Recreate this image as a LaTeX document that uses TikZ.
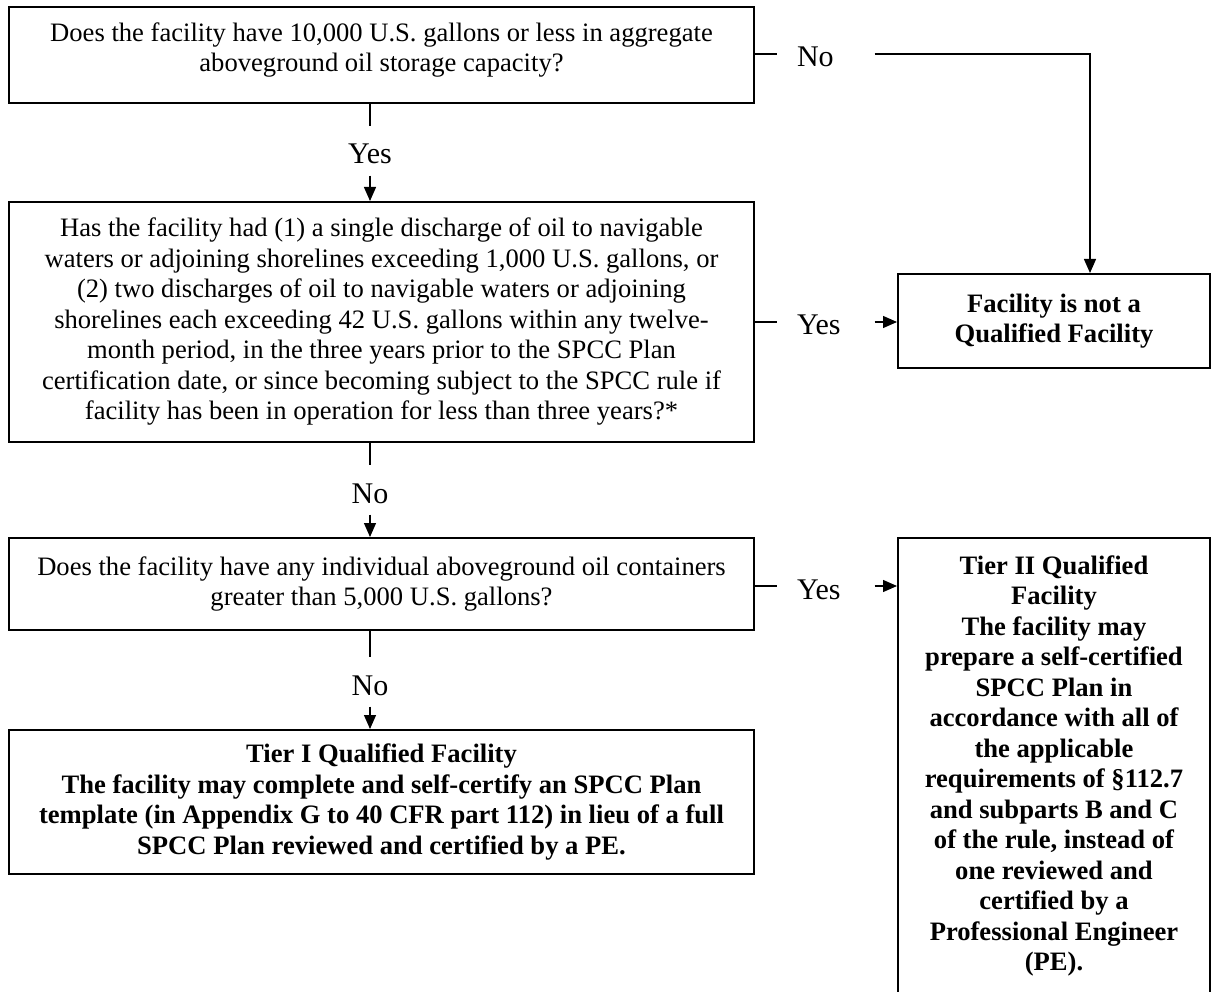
\documentclass[tikz,border=0pt]{standalone}
\usepackage{fontspec}
\setmainfont{Liberation Serif}
\usetikzlibrary{arrows.meta}
\newcommand{\txt}{\fontsize{26.6}{30.5}\selectfont}

\begin{document}
\begin{tikzpicture}[x=1pt,y=-1pt,line width=1.3pt,
    every node/.style={font=\txt},
    box/.style={draw,line width=2pt,align=center,inner sep=0pt},
    bbox/.style={box,font=\txt\bfseries},
    lbl/.style={inner sep=0pt,text height=26pt,text depth=0pt,font=\fontsize{30}{36}\selectfont},
    hlbl/.style={lbl,text width=58pt,inner xsep=19pt,align=left},
    vlbl/.style={lbl,minimum height=48pt},
    arr/.style={-{Triangle[length=14pt,width=12pt]}}]
    \useasboundingbox (0,0) rectangle (1211,992);
    % questions
    \node [box,minimum width=745pt,minimum height=96pt] (q1) at (381.5,55)
        {Does the facility have 10,000 U.S. gallons or less in aggregate\\
         aboveground oil storage capacity?\rule[-16pt]{0pt}{16pt}};
    \node [box,minimum width=745pt,minimum height=240pt] (q2) at (381.5,322)
        {Has the facility had (1) a single discharge of oil to navigable\\
         waters or adjoining shorelines exceeding 1,000 U.S. gallons, or\\
         (2) two discharges of oil to navigable waters or adjoining\\
         shorelines each exceeding 42 U.S. gallons within any twelve-\\
         month period, in the three years prior to the SPCC Plan\\
         certification date, or since becoming subject to the SPCC rule if\\
         facility has been in operation for less than three years?*};
    \node [box,minimum width=745pt,minimum height=92pt] (q3) at (381.5,584)
        {Does the facility have any individual aboveground oil containers\\
         greater than 5,000 U.S. gallons?};
    % outcomes
    \node [bbox,minimum width=312pt,minimum height=94pt] (notq) at (1054,321)
        {Facility is not a\\ Qualified Facility};
    \node [bbox,minimum width=745pt,minimum height=144pt] (tier1) at (381.5,802)
        {Tier I Qualified Facility\\
         The facility may complete and self-certify an SPCC Plan\\
         template (in Appendix G to 40 CFR part 112) in lieu of a full\\
         SPCC Plan reviewed and certified by a PE.};
    \node [bbox,minimum width=312pt,minimum height=456pt] (tier2) at (1054,766)
        {Tier II Qualified\\ Facility\\ The facility may\\ prepare a self-certified\\
         SPCC Plan in\\ accordance with all of\\ the applicable\\
         requirements of §112.7\\ and subparts B and C\\ of the rule, instead of\\
         one reviewed and\\ certified by a\\ Professional Engineer\\ (PE).};
    % answers
    \node [hlbl] (no1) at (826,54) {No};
    \node [vlbl] (yes1) at (370,151) {Yes};
    \node [hlbl] (yes2) at (826,322) {Yes};
    \node [vlbl] (no2) at (370,490) {No};
    \node [hlbl] (yes3) at (826,586) {Yes};
    \node [vlbl] (no3) at (370,682) {No};
    % connectors
    \draw (q1.east |- no1) -- (no1);
    \draw [arr] (no1) -| ([xshift=36pt]notq.north);
    \draw (q1.south -| yes1) -- (yes1);
    \draw [arr] (yes1) -- (q2.north -| yes1);
    \draw (q2.east |- yes2) -- (yes2);
    \draw [arr] (yes2) -- (notq.west |- yes2);
    \draw (q2.south -| no2) -- (no2);
    \draw [arr] (no2) -- (q3.north -| no2);
    \draw (q3.east |- yes3) -- (yes3);
    \draw [arr] (yes3) -- (tier2.west |- yes3);
    \draw (q3.south -| no3) -- (no3);
    \draw [arr] (no3) -- (tier1.north -| no3);
\end{tikzpicture}
\end{document}
